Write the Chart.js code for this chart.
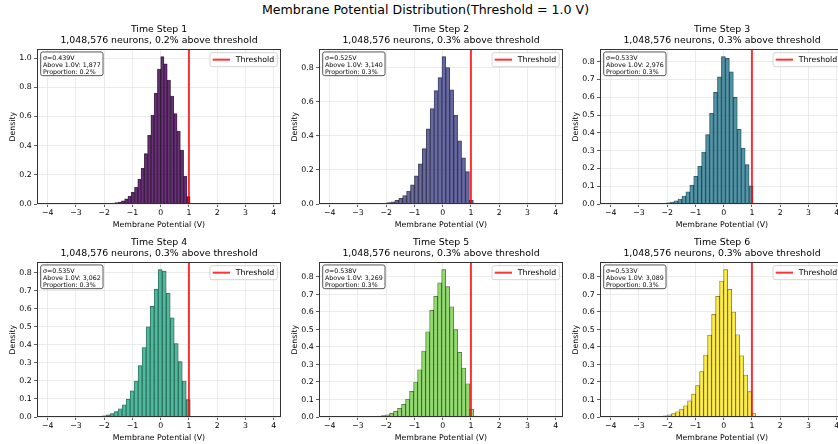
<!DOCTYPE html>
<html>
<head>
<meta charset="utf-8">
<script src="https://cdn.jsdelivr.net/npm/chart.js@4.4.0/dist/chart.umd.min.js"></script>
<style>
  html, body { margin: 0; padding: 0; background: #fff; }
  body { width: 838px; height: 444px; overflow: hidden; position: relative; font-family: "DejaVu Sans", sans-serif; }
  #suptitle { position: absolute; left: 0; top: 2px; width: 851px; text-align: center; font-size: 12.6px; line-height: 16px; color: #000; }
  canvas { position: absolute; }
</style>
</head>
<body>
<div id="suptitle">Membrane Potential Distribution(Threshold = 1.0 V)</div>
<canvas id="c0" width="282" height="212" style="left:0px;top:20px"></canvas>
<canvas id="c1" width="282" height="212" style="left:282px;top:20px"></canvas>
<canvas id="c2" width="282" height="212" style="left:563px;top:20px"></canvas>
<canvas id="c3" width="282" height="212" style="left:0px;top:233px"></canvas>
<canvas id="c4" width="282" height="212" style="left:282px;top:233px"></canvas>
<canvas id="c5" width="282" height="212" style="left:563px;top:233px"></canvas>
<script>
// ---- data ----
const THRESHOLD = 1.0;
const NEURONS = 1048576;
const stepNames = ["Time Step 1", "Time Step 2", "Time Step 3", "Time Step 4", "Time Step 5", "Time Step 6"];
const sigmas = [0.439, 0.525, 0.533, 0.535, 0.538, 0.533];
const aboveCounts = [1877, 3140, 2976, 3062, 3269, 3089];
const proportions = [0.2, 0.3, 0.3, 0.3, 0.3, 0.3];

// left edge of the first listed bin and the bin width of each histogram
const binStarts = [-2.204, -2.529, -2.6, -2.646, -2.591, -2.556];
const binWidths = [0.116, 0.139, 0.14, 0.142, 0.142, 0.142];

const density1 = [0.0005, 0.001, 0.002, 0.004, 0.006, 0.009, 0.014, 0.022, 0.035, 0.055, 0.08, 0.115, 0.17, 0.245, 0.345, 0.47, 0.61, 0.76, 0.925,
  1.01, 0.96, 0.85, 0.74, 0.62, 0.50, 0.37, 0.19, 0.05, 0.004, 0.002, 0.001];
const density2 = [0.001, 0.002, 0.003, 0.005, 0.008, 0.013, 0.021, 0.033, 0.05, 0.076, 0.112, 0.165, 0.235, 0.325, 0.44, 0.56, 0.665, 0.741,
  0.864, 0.80, 0.67, 0.52, 0.37, 0.27, 0.19, 0.022, 0.005, 0.003, 0.001];
const density3 = [0.001, 0.002, 0.003, 0.004, 0.007, 0.011, 0.018, 0.028, 0.045, 0.069, 0.106, 0.156, 0.212, 0.292, 0.39, 0.51, 0.627, 0.714,
  0.828, 0.818, 0.742, 0.599, 0.42, 0.314, 0.221, 0.102, 0.005, 0.002, 0.001];
const density4 = [0.0005, 0.001, 0.002, 0.004, 0.007, 0.012, 0.019, 0.03, 0.046, 0.068, 0.099, 0.145, 0.2, 0.285, 0.386, 0.5, 0.614, 0.71,
  0.818, 0.81, 0.688, 0.55, 0.408, 0.307, 0.2, 0.096, 0.004, 0.002, 0.001];
const density5 = [0.001, 0.003, 0.005, 0.008, 0.013, 0.021, 0.033, 0.05, 0.073, 0.102, 0.146, 0.2, 0.27, 0.377, 0.487, 0.61, 0.69, 0.766,
  0.842, 0.745, 0.63, 0.50, 0.37, 0.28, 0.19, 0.045, 0.005, 0.002, 0.001];
const density6 = [0.001, 0.002, 0.004, 0.007, 0.012, 0.02, 0.03, 0.045, 0.064, 0.093, 0.131, 0.18, 0.26, 0.354, 0.468, 0.586, 0.69, 0.777,
  0.842, 0.73, 0.60, 0.47, 0.35, 0.24, 0.145, 0.02, 0.004, 0.002, 0.001];
const densities = [density1, density2, density3, density4, density5, density6];

const xTicks = [-4, -3, -2, -1, 0, 1, 2, 3, 4];
const yTicksWide = [0, 0.2, 0.4, 0.6, 0.8, 1.0];
const yTicksMid = [0, 0.2, 0.4, 0.6, 0.8];
const yTicksFine = [0, 0.1, 0.2, 0.3, 0.4, 0.5, 0.6, 0.7, 0.8];
const yTicksPerPanel = [yTicksWide, yTicksMid, yTicksFine, yTicksFine, yTicksFine, yTicksFine];

// ---- style ----
const FONT = "DejaVu Sans";
const barColors = ["#440154", "#414487", "#2a788e", "#22a884", "#7ad151", "#fde725"];
Chart.defaults.font.family = FONT;
Chart.defaults.color = "#000";

function withAlpha(hex, a) {
  const n = parseInt(hex.slice(1), 16);
  return `rgba(${(n >> 16) & 255},${(n >> 8) & 255},${n & 255},${a})`;
}

function minusFmt(v) {
  return v < 0 ? "\u2212" + Math.abs(v) : String(v);
}

function roundBox(ctx, x, y, w, h, r) {
  ctx.beginPath();
  ctx.moveTo(x + r, y);
  ctx.arcTo(x + w, y, x + w, y + h, r);
  ctx.arcTo(x + w, y + h, x, y + h, r);
  ctx.arcTo(x, y + h, x, y, r);
  ctx.arcTo(x, y, x + w, y, r);
  ctx.closePath();
}

// frame, stats box and legend drawn on top of the plot
const panelDecor = {
  id: "panelDecor",
  afterDraw(chart, args, opts) {
    const { ctx, chartArea: a } = chart;
    ctx.save();

    // spines
    ctx.strokeStyle = "#333";
    ctx.lineWidth = 1;
    ctx.strokeRect(Math.round(a.left) + 0.5, Math.round(a.top) + 0.5,
      Math.round(a.right) - Math.round(a.left) - 1, Math.round(a.bottom) - Math.round(a.top) - 1);

    // stats text box
    ctx.font = "6.3px " + FONT;
    const w = Math.max(...opts.lines.map(t => ctx.measureText(t).width)) + 4.6;
    const bx = a.left + 3.7, by = a.top + 2.7;
    roundBox(ctx, bx, by, w, 23.7, 2);
    ctx.fillStyle = "rgba(255,255,255,0.85)";
    ctx.fill();
    ctx.strokeStyle = "#444";
    ctx.lineWidth = 0.9;
    ctx.stroke();
    ctx.fillStyle = "#000";
    ctx.textBaseline = "middle";
    ctx.textAlign = "left";
    opts.lines.forEach((t, i) => ctx.fillText(t, bx + 2.3, by + 3.5 + 3.3 + i * 7));

    // legend
    const ds = chart.data.datasets.find(d => d.type === "line");
    const lw = 67.3, lh = 14;
    const lx = a.right - 3.7 - lw, ly = a.top + 3.4;
    roundBox(ctx, lx, ly, lw, lh, 2);
    ctx.fillStyle = "rgba(255,255,255,0.8)";
    ctx.fill();
    ctx.strokeStyle = "#cccccc";
    ctx.lineWidth = 0.8;
    ctx.stroke();
    ctx.beginPath();
    ctx.moveTo(lx + 2.7, ly + lh / 2);
    ctx.lineTo(lx + 20, ly + lh / 2);
    ctx.strokeStyle = ds.borderColor;
    ctx.lineWidth = 2;
    ctx.stroke();
    ctx.font = "7.8px " + FONT;
    ctx.fillStyle = "#000";
    ctx.fillText(ds.label, lx + 25.7, ly + lh / 2 + 0.5);

    ctx.restore();
  }
};

function makePanel(i) {
  const dens = densities[i];
  const bars = dens.map((d, k) => ({ x: binStarts[i] + (k + 0.5) * binWidths[i], y: d }));
  const yMax = Math.max(...dens) * 1.05;
  const yTicks = yTicksPerPanel[i];
  const pct = proportions[i].toFixed(1);

  new Chart(document.getElementById("c" + i), {
    type: "bar",
    data: {
      datasets: [
        {
          type: "bar",
          label: "Histogram",
          data: bars,
          backgroundColor: withAlpha(barColors[i], 0.8),
          borderColor: "rgba(0,0,0,0.7)",
          borderWidth: 0.5,
          barPercentage: 1,
          categoryPercentage: 1,
          order: 2
        },
        {
          type: "line",
          label: "Threshold",
          data: [{ x: THRESHOLD, y: 0 }, { x: THRESHOLD, y: yMax }],
          borderColor: "rgba(255,0,0,0.8)",
          borderWidth: 2,
          pointRadius: 0,
          order: 1
        }
      ]
    },
    options: {
      responsive: false,
      animation: false,
      events: [],
      layout: { padding: { left: 0, right: 1, top: 0, bottom: 0 } },
      scales: {
        x: {
          type: "linear",
          min: -4.38,
          max: 4.26,
          offset: false,
          border: { display: false },
          grid: { color: "#e6e6e6", lineWidth: 0.8, offset: false, tickColor: "#333", tickLength: 3 },
          ticks: { font: { size: 7.8 }, color: "#000", padding: 1, maxRotation: 0, autoSkip: false, callback: v => minusFmt(v) },
          afterBuildTicks: s => { s.ticks = xTicks.map(v => ({ value: v })); },
          afterFit: s => { s.height = 28; },
          title: { display: true, text: "Membrane Potential (V)", font: { size: 7.8 }, color: "#000", padding: { top: 0, bottom: 2.3 } }
        },
        y: {
          min: 0,
          max: yMax,
          border: { display: false },
          grid: { color: "#e6e6e6", lineWidth: 0.8, tickColor: "#333", tickLength: 3 },
          ticks: { font: { size: 7.8 }, color: "#000", padding: 2.3, callback: v => v.toFixed(1) },
          afterBuildTicks: s => { s.ticks = yTicks.map(v => ({ value: v })); },
          afterFit: s => { s.width = 37; },
          title: { display: true, text: "Density", font: { size: 7.8 }, color: "#000", padding: { top: 8, bottom: 0 } }
        }
      },
      plugins: {
        legend: { display: false },
        tooltip: { enabled: false },
        title: {
          display: true,
          fullSize: false,
          text: [stepNames[i], `${NEURONS.toLocaleString("en-US")} neurons, ${pct}% above threshold`],
          font: { size: 9.4, weight: "normal" },
          color: "#000",
          padding: { top: 3.7, bottom: 3 }
        },
        panelDecor: {
          lines: [
            `\u03c3=${sigmas[i].toFixed(3)}V`,
            `Above ${THRESHOLD.toFixed(1)}V: ${aboveCounts[i].toLocaleString("en-US")}`,
            `Proportion: ${pct}%`
          ]
        }
      }
    },
    plugins: [panelDecor]
  });
}

for (let i = 0; i < 6; i++) makePanel(i);
</script>
</body>
</html>
